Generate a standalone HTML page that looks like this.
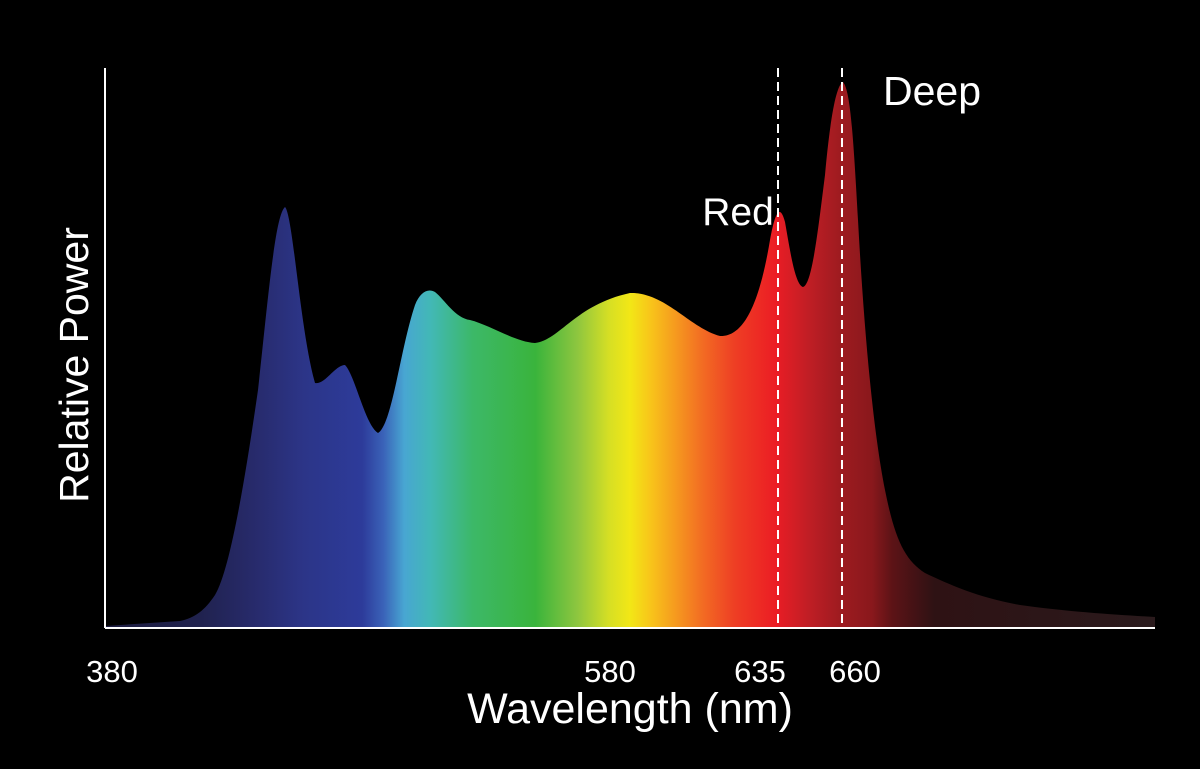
<!DOCTYPE html>
<html><head><meta charset="utf-8"><style>
html,body{margin:0;padding:0;background:#000;}
svg{display:block;}
text{font-family:"Liberation Sans",sans-serif;fill:#fff;}
</style></head><body>
<svg width="1200" height="769" viewBox="0 0 1200 769">
<defs>
<linearGradient id="g" gradientUnits="userSpaceOnUse" x1="105" y1="0" x2="1155" y2="0">
<stop offset="0" stop-color="#1c1c40"/>
<stop offset="0.09" stop-color="#20224e"/>
<stop offset="0.14" stop-color="#272a6a"/>
<stop offset="0.19" stop-color="#2c3588"/>
<stop offset="0.245" stop-color="#2d3b9a"/>
<stop offset="0.265" stop-color="#3a62b8"/>
<stop offset="0.285" stop-color="#48a6d2"/>
<stop offset="0.31" stop-color="#42b8b6"/>
<stop offset="0.35" stop-color="#3cb868"/>
<stop offset="0.41" stop-color="#3ab43c"/>
<stop offset="0.45" stop-color="#8ec63f"/>
<stop offset="0.48" stop-color="#d6df24"/>
<stop offset="0.5" stop-color="#f2e716"/>
<stop offset="0.52" stop-color="#f8c41a"/>
<stop offset="0.54" stop-color="#f6a01e"/>
<stop offset="0.57" stop-color="#f26a23"/>
<stop offset="0.6" stop-color="#ee3e24"/>
<stop offset="0.64" stop-color="#ec1c24"/>
<stop offset="0.64" stop-color="#e81d25"/>
<stop offset="0.67" stop-color="#c01e25"/>
<stop offset="0.70" stop-color="#9e1b20"/>
<stop offset="0.73" stop-color="#8a181c"/>
<stop offset="0.75" stop-color="#5c1316"/>
<stop offset="0.79" stop-color="#2e1214"/>
<stop offset="1" stop-color="#2a1a1c"/>
</linearGradient>
</defs>
<path fill="url(#g)" d="M105,626 L180,621 C195,618 205,610 215,595 C230,570 245,480 258,390 C268,300 275,215 285,207 C293,215 300,330 315,383 C325,385 335,365 345,365 C355,375 365,425 378,433 C392,425 400,350 415,305 C420,292 428,288 435,292 C445,300 455,318 470,320 C490,325 515,342 535,343 C560,340 575,305 630,293 C665,292 690,328 720,336 C745,337 760,300 770,240 C775,212 780,203 785,222 C790,250 795,285 803,287 C812,285 818,230 825,175 C830,120 836,85 843,82 C850,90 853,130 858,220 C864,330 873,430 885,490 C895,540 905,560 925,573 C950,585 980,598 1020,605 C1070,612 1120,615 1155,617 L1155,628 L105,628 Z"/>
<line x1="105" y1="68" x2="105" y2="628" stroke="#fff" stroke-width="2"/>
<line x1="105" y1="628" x2="1155" y2="628" stroke="#fff" stroke-width="2"/>
<line x1="778" y1="68" x2="778" y2="628" stroke="#fff" stroke-width="2" stroke-dasharray="9,5"/>
<line x1="842" y1="68" x2="842" y2="628" stroke="#fff" stroke-width="2" stroke-dasharray="9,5"/>
<text x="112" y="682" font-size="31" text-anchor="middle">380</text>
<text x="610" y="682" font-size="31" text-anchor="middle">580</text>
<text x="760" y="682" font-size="31" text-anchor="middle">635</text>
<text x="855" y="682" font-size="31" text-anchor="middle">660</text>
<text x="630" y="723" font-size="43" text-anchor="middle">Wavelength (nm)</text>
<text transform="translate(88,365) rotate(-90)" font-size="41" text-anchor="middle">Relative Power</text>
<text x="738" y="225" font-size="39" text-anchor="middle">Red</text>
<text x="932" y="105" font-size="41" text-anchor="middle">Deep</text>
</svg>
</body></html>
